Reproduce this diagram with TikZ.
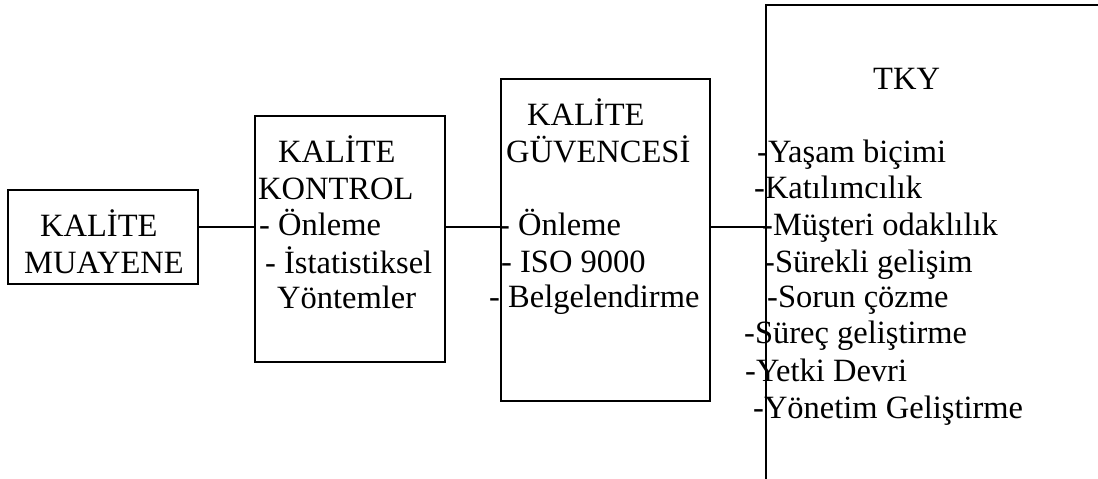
\documentclass[tikz,border=0pt]{standalone}
\usepackage{fontspec}
\setmainfont{Liberation Serif}
\begin{document}
\begin{tikzpicture}[x=1pt,y=-1pt,
  box/.style={draw,line width=2pt,rectangle,inner sep=0pt},
  conn/.style={line width=1.5pt},
  txt/.style={anchor=base west,inner sep=0pt,font=\fontsize{32.5}{36.5}\selectfont}]
\useasboundingbox (0,0) rectangle (1098,479);
\clip (0,0) rectangle (1098,479);
% boxes
\node[box,minimum width=190pt,minimum height=94pt] (muay) at (103,237) {};
\node[box,minimum width=190pt,minimum height=246pt] (kont) at (350,239) {};
\node[box,minimum width=209pt,minimum height=322pt] (guv) at (605.5,240) {};
\node[box,minimum width=354pt,minimum height=495pt] (tky) at (943,252.5) {};
% connectors
\coordinate (c) at (0,227);
\draw[conn] (muay.east |- c) -- (kont.west |- c);
\draw[conn] (kont.east |- c) -- (guv.west |- c);
\draw[conn] (guv.east |- c) -- (tky.west |- c);
% texts
\node[txt] (m1) at (40,236) {KALİTE};
\node[txt] (m2) at (24,273) {MUAYENE};
\node[txt] (k1) at (278,162) {KALİTE};
\node[txt] (k2) at (258,199) {KONTROL};
\node[txt] (k3) at (259,235) {- Önleme};
\node[txt] (k4) at (265,273) {- İstatistiksel};
\node[txt] (k5) at (277,308) {Yöntemler};
\node[txt] (g1) at (527,125) {KALİTE};
\node[txt] (g2) at (506,162) {GÜVENCESİ};
\node[txt] (g3) at (499,235) {- Önleme};
\node[txt] (g4) at (501,272) {- ISO 9000};
\node[txt] (g5) at (489,307) {- Belgelendirme};
\node[txt] (t0) at (873,89) {TKY};
\node[txt] (t1) at (757,162) {-Yaşam biçimi};
\node[txt] (t2) at (754,198) {-Katılımcılık};
\node[txt] (t3) at (762,235) {-Müşteri odaklılık};
\node[txt] (t4) at (764,272) {-Sürekli gelişim};
\node[txt] (t5) at (767,307) {-Sorun çözme};
\node[txt] (t6) at (744,343) {-Süreç geliştirme};
\node[txt] (t7) at (745,381) {-Yetki Devri};
\node[txt] (t8) at (753,418) {-Yönetim Geliştirme};
\end{tikzpicture}
\end{document}
